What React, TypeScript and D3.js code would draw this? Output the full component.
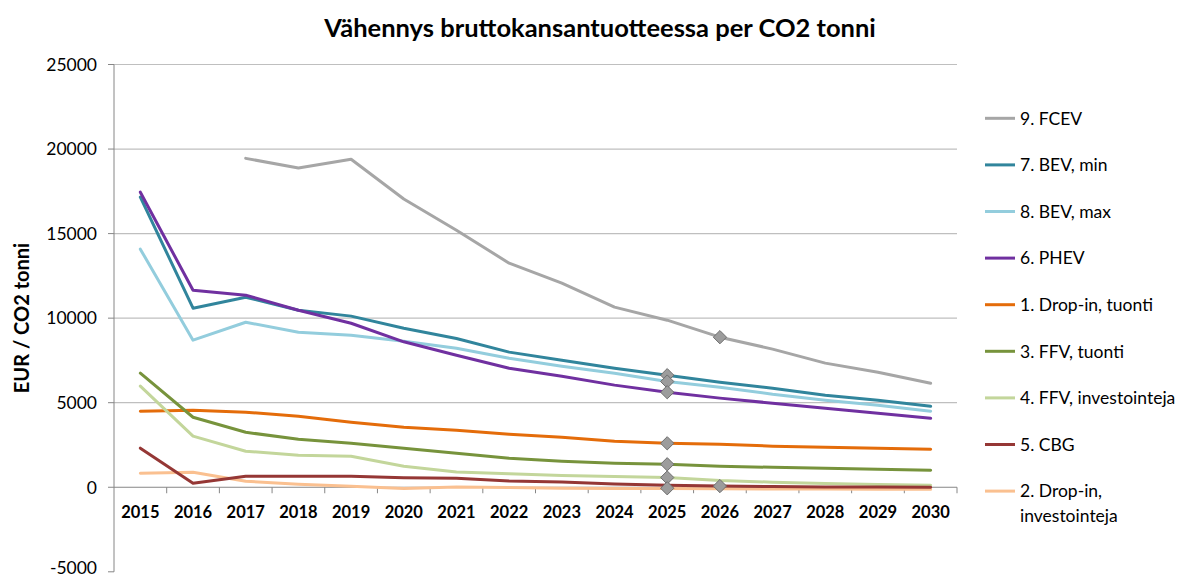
import React from "react";
import * as d3 from "d3";

const years = ["2015","2016","2017","2018","2019","2020","2021","2022","2023","2024","2025","2026","2027","2028","2029","2030"];
const yTicks = [-5000, 0, 5000, 10000, 15000, 20000, 25000];

const fcev = [null, null, 19450, 18880, 19400, 17050, 15200, 13250, 12070, 10650, 9880, 8875, 8170, 7340, 6800, 6150];
const bevMin = [17160, 10590, 11240, 10470, 10120, 9400, 8800, 7990, 7515, 7040, 6627, 6213, 5860, 5440, 5150, 4790];
const bevMax = [14080, 8700, 9760, 9170, 8990, 8640, 8220, 7630, 7160, 6745, 6250, 5920, 5500, 5150, 4850, 4500];
const phev = [17450, 11650, 11360, 10470, 9700, 8600, 7810, 7040, 6570, 6040, 5620, 5270, 4970, 4670, 4380, 4080];
const dropinTuonti = [4500, 4560, 4440, 4200, 3850, 3550, 3370, 3140, 2960, 2720, 2600, 2540, 2430, 2370, 2300, 2250];
const ffvTuonti = [6750, 4140, 3250, 2840, 2600, 2310, 2010, 1720, 1540, 1420, 1360, 1240, 1180, 1120, 1060, 1000];
const ffvInv = [5980, 3020, 2130, 1890, 1830, 1240, 900, 800, 700, 640, 575, 400, 300, 220, 160, 120];
const cbg = [2310, 240, 650, 650, 650, 560, 530, 370, 310, 190, 120, 70, 40, 20, 10, 0];
const dropinInv = [830, 890, 360, 180, 60, -80, 20, -20, -60, -80, -80, -90, -100, -110, -120, -120];

const markerYears = ["2025","2025","2025","2025","2025","2025","2025","2026","2026"];
const markerValues = [6627, 6250, 5620, 2600, 1360, 575, -60, 8875, 70];

type Series = { name: string[]; values: (number | null)[]; color: string };

const drawOrder: Series[] = [
  { name: ["1. Drop-in, tuonti"], values: dropinTuonti, color: "#E46C0A" },
  { name: ["2. Drop-in,", "investointeja"], values: dropinInv, color: "#FAC090" },
  { name: ["3. FFV, tuonti"], values: ffvTuonti, color: "#77933C" },
  { name: ["4. FFV, investointeja"], values: ffvInv, color: "#C3D69B" },
  { name: ["5. CBG"], values: cbg, color: "#953735" },
  { name: ["8. BEV, max"], values: bevMax, color: "#93CDDD" },
  { name: ["7. BEV, min"], values: bevMin, color: "#31859C" },
  { name: ["6. PHEV"], values: phev, color: "#7030A0" },
  { name: ["9. FCEV"], values: fcev, color: "#A6A6A6" },
];

const legendOrder = ["9. FCEV", "7. BEV, min", "8. BEV, max", "6. PHEV", "1. Drop-in, tuonti", "3. FFV, tuonti", "4. FFV, investointeja", "5. CBG", "2. Drop-in,"];

const FONT = "Lato, 'Open Sans', sans-serif";

export default function App() {
  const W = 1190, H = 578;
  const left = 114, right = 957, top = 64.5, bottom = 571.8;
  const x = d3.scaleBand<string>().domain(years).range([left, right]).padding(0);
  const y = d3.scaleLinear().domain([-5000, 25000]).range([bottom, top]);
  const cx = (yr: string) => (x(yr) as number) + x.bandwidth() / 2;
  const y0 = y(0);

  const line = d3
    .line<number | null>()
    .defined((d) => d !== null)
    .x((_, i) => cx(years[i]))
    .y((d) => y(d as number));

  const diamond = d3.symbol().type(d3.symbolDiamond2).size(2 * 7.5 * 7.5)();

  const legendY0 = 118.3;
  const legendStep = 46.6;

  return (
    <svg width={W} height={H} style={{ position: "absolute", left: 0, top: 0, background: "#fff" }}>
      <rect x={0} y={0} width={W} height={H} fill="#fff" />
      <text x={600} y={37} textAnchor="middle" fontFamily={FONT} fontWeight="bold" fontSize={25.5} fill="#000">
        Vähennys bruttokansantuotteessa per CO2 tonni
      </text>

      {yTicks.map((t) => (
        <g key={t}>
          {t !== 0 && t !== -5000 && (
            <line x1={left} x2={right} y1={y(t)} y2={y(t)} stroke="#BFBFBF" strokeWidth={1.2} />
          )}
          <line x1={left - 6} x2={left} y1={y(t)} y2={y(t)} stroke="#868686" strokeWidth={1} />
          <text x={97} y={t === -5000 ? y(t) - 4 : y(t)} dy="0.36em" textAnchor="end" fontFamily={FONT} fontSize={17.5} fill="#000">
            {t}
          </text>
        </g>
      ))}

      <line x1={left} x2={left} y1={top} y2={bottom} stroke="#868686" strokeWidth={1} />
      <line x1={left} x2={right} y1={y0} y2={y0} stroke="#868686" strokeWidth={1} />
      {years.map((yr) => (
        <line key={"tk" + yr} x1={(x(yr) as number) + x.bandwidth()} x2={(x(yr) as number) + x.bandwidth()} y1={y0} y2={y0 + 6} stroke="#868686" strokeWidth={1} />
      ))}
      {years.map((yr) => (
        <text key={"xl" + yr} x={cx(yr)} y={518} textAnchor="middle" fontFamily={FONT} fontWeight="bold" fontSize={16.5} fill="#000">
          {yr}
        </text>
      ))}

      <text transform={`translate(29,318) rotate(-90)`} textAnchor="middle" fontFamily={FONT} fontWeight="bold" fontSize={20} fill="#000">
        EUR / CO2 tonni
      </text>

      {drawOrder.map((s) => (
        <path key={s.name[0]} d={line(s.values) || ""} fill="none" stroke={s.color} strokeWidth={3} strokeLinejoin="round" strokeLinecap="round" />
      ))}

      {markerValues.map((v, i) => (
        <path key={"m" + i} d={diamond || ""} transform={`translate(${cx(markerYears[i])},${y(v)})`} fill="#9C9C9C" stroke="#6E6E6E" strokeWidth={1} />
      ))}

      {legendOrder.map((nm, i) => {
        const s = drawOrder.find((d) => d.name[0] === nm)!;
        const ly = legendY0 + i * legendStep;
        return (
          <g key={"lg" + nm}>
            <line x1={985} x2={1015} y1={ly} y2={ly} stroke={s.color} strokeWidth={3} />
            {s.name.map((part, j) => (
              <text key={part} x={1020} y={ly + j * 25} dy="0.36em" fontFamily={FONT} fontSize={17.5} fill="#000">
                {part}
              </text>
            ))}
          </g>
        );
      })}
    </svg>
  );
}
